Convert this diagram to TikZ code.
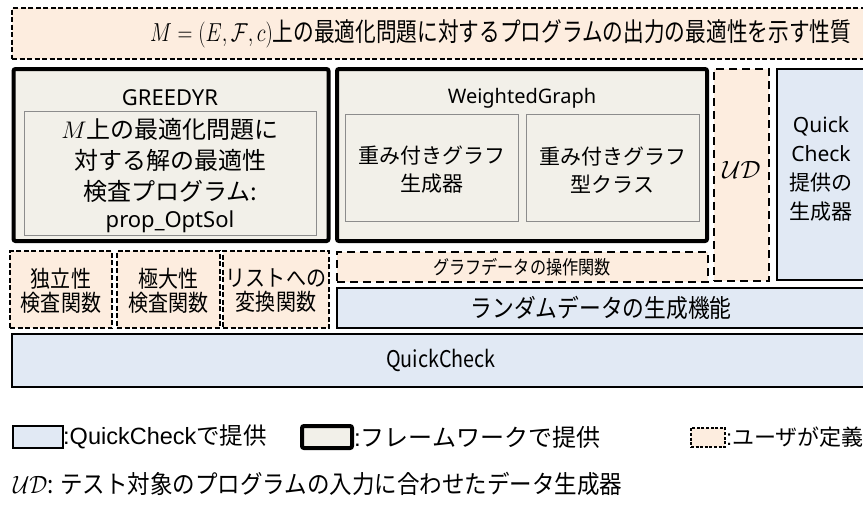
\RequirePackage{fix-cm}
\documentclass[tikz,border=0pt]{standalone}
\usepackage[no-math]{fontspec}
\setmainfont{Noto Sans}
\newfontfamily\jp{Noto Sans CJK JP}
\newfontfamily\ari{Liberation Sans}
\usepackage{graphicx}
\definecolor{peach}{RGB}{253,237,223}
\definecolor{beige}{RGB}{242,240,233}
\definecolor{qblue}{RGB}{225,233,244}
\newcommand\cnd[2][0.86]{\scalebox{#1}[1]{#2}}
\tikzset{
  x=1pt,y=-1pt,
  bx/.style={anchor=north west,inner sep=0pt,outer sep=0pt},
  userS/.style={bx,draw,line width=1.6pt,dash pattern=on 5pt off 2.5pt,fill=peach},
  userL/.style={bx,draw,line width=2.2pt,dash pattern=on 8pt off 5pt,fill=peach},
  fw/.style={bx,draw,line width=4pt,fill=beige,rounded corners=2pt},
  innerbox/.style={bx,draw=black!45,line width=0.8pt,fill=beige},
  qc/.style={bx,draw,line width=1.5pt,fill=qblue},
  lab/.style={inner sep=0pt,align=center},
}
\begin{document}
\begin{tikzpicture}
\path[use as bounding box] (0,0) rectangle (863,504);
\clip (0,0) rectangle (863,504);
% top property box
\node[userS,minimum width=870pt,minimum height=51pt] (prop) at (12,8) {};
\node[lab,anchor=west,font=\jp\fontsize{26}{30}\selectfont] (propt) at (150,34)
  {\cnd[0.795]{$M=(E,\mathcal{F},c)$上の最適化問題に対するプログラムの出力の最適性を示す性質}};
% GREEDYR
\node[fw,minimum width=315pt,minimum height=172pt] (gr) at (13.5,69) {};
\node[lab,font=\fontsize{22}{26}\selectfont] (grt) at (170,98) {GREEDYR};
\node[innerbox,minimum width=292pt,minimum height=124pt] (opt) at (24,111) {};
\node[lab,font=\jp\fontsize{24}{31}\selectfont] (optt) at (170,160)
  {$M$上の最適化問題に\\対する解の最適性\\検査プログラム:};
\node[lab,font=\fontsize{22}{26}\selectfont] (optp) at (170,222) {prop\_OptSol};
% WeightedGraph
\node[fw,minimum width=370pt,minimum height=172pt] (wg) at (337,69) {};
\node[lab,font=\fontsize{20}{24}\selectfont] (wgt) at (522,98) {WeightedGraph};
\node[innerbox,minimum width=173pt,minimum height=107pt] (wg1) at (345,114) {};
\node[innerbox,minimum width=173pt,minimum height=107pt] (wg2) at (526,114) {};
\node[lab,font=\jp\fontsize{21}{28}\selectfont] (wg1t) at (431.5,170) {重み付きグラフ\\生成器};
\node[lab,font=\jp\fontsize{21}{28}\selectfont] (wg2t) at (612.5,170) {重み付きグラフ\\型クラス};
% UD
\node[userL,minimum width=55pt,minimum height=212pt] (ud) at (714,69) {};
\node[lab,font=\fontsize{25}{28}\selectfont] (udt) at (741.5,170) {$\mathcal{UD}$};
% QuickCheck generators
\node[qc,line width=2pt,minimum width=100pt,minimum height=211pt] (qg) at (777,69) {};
\node[lab,font=\jp\fontsize{21}{29}\selectfont] (qgt) at (821,168.5)
  {{\rmfamily Quick}\\{\rmfamily Check}\\提供の\\生成器};
% small user boxes
\node[userS,line width=2pt,minimum width=102pt,minimum height=77pt] (s1) at (10,251) {};
\node[userS,line width=2pt,minimum width=103pt,minimum height=77pt] (s2) at (117,251) {};
\node[userS,line width=2pt,minimum width=106pt,minimum height=77pt] (s3) at (223,251) {};
\node[lab,font=\jp\fontsize{23}{24}\selectfont] (s1t) at (61,291) {\cnd[0.87]{独立性}\\\cnd[0.87]{検査関数}};
\node[lab,font=\jp\fontsize{23}{24}\selectfont] (s2t) at (168.5,291) {\cnd[0.87]{極大性}\\\cnd[0.87]{検査関数}};
\node[lab,font=\jp\fontsize{23}{24}\selectfont] (s3t) at (276,291) {\cnd[0.87]{リストへの}\\\cnd[0.87]{変換関数}};
% graph data ops
\node[userL,minimum width=371pt,minimum height=30pt] (go) at (337,252) {};
\node[lab,font=\jp\fontsize{19}{20}\selectfont] (got) at (522,267) {\cnd[0.85]{グラフデータの操作関数}};
% random data
\node[qc,minimum width=545pt,minimum height=40pt] (rd) at (337,288) {};
\node[lab,font=\jp\fontsize{25}{26}\selectfont] (rdt) at (601,308) {\cnd[0.87]{ランダムデータの生成機能}};
% QuickCheck
\node[qc,minimum width=870pt,minimum height=53pt] (qcb) at (12,334) {};
\node[lab,font=\jp\fontsize{23}{24}\selectfont] (qct) at (441,360) {\cnd[0.86]{QuickCheck}};
% legend
\node[qc,minimum width=50pt,minimum height=22pt] (lq) at (13,426) {};
\node[lab,anchor=west,font=\fontsize{23.5}{26}\selectfont] (lqt) at (lq.east) {{\ari :QuickCheck}{\jp で提供}};
\node[fw,minimum width=50pt,minimum height=22pt] (lf) at (302,426) {};
\node[lab,anchor=west,font=\jp\fontsize{24}{26}\selectfont] (lft) at ([xshift=2pt]lf.east) {{\ari :}フレームワークで提供};
\node[userS,line width=1.4pt,dash pattern=on 3pt off 1.6pt,minimum width=34pt,minimum height=19pt] (lu) at (691,428) {};
\node[lab,anchor=west,font=\jp\fontsize{22}{26}\selectfont] (lut) at ([xshift=1pt]lu.east) {{\ari :}ユーザが定義};
\node[lab,anchor=west,font=\jp\fontsize{25}{28}\selectfont] (udl) at (13,484)
  {\cnd[0.9]{$\mathcal{UD}$: テスト対象のプログラムの入力に合わせたデータ生成器}};
\end{tikzpicture}
\end{document}
